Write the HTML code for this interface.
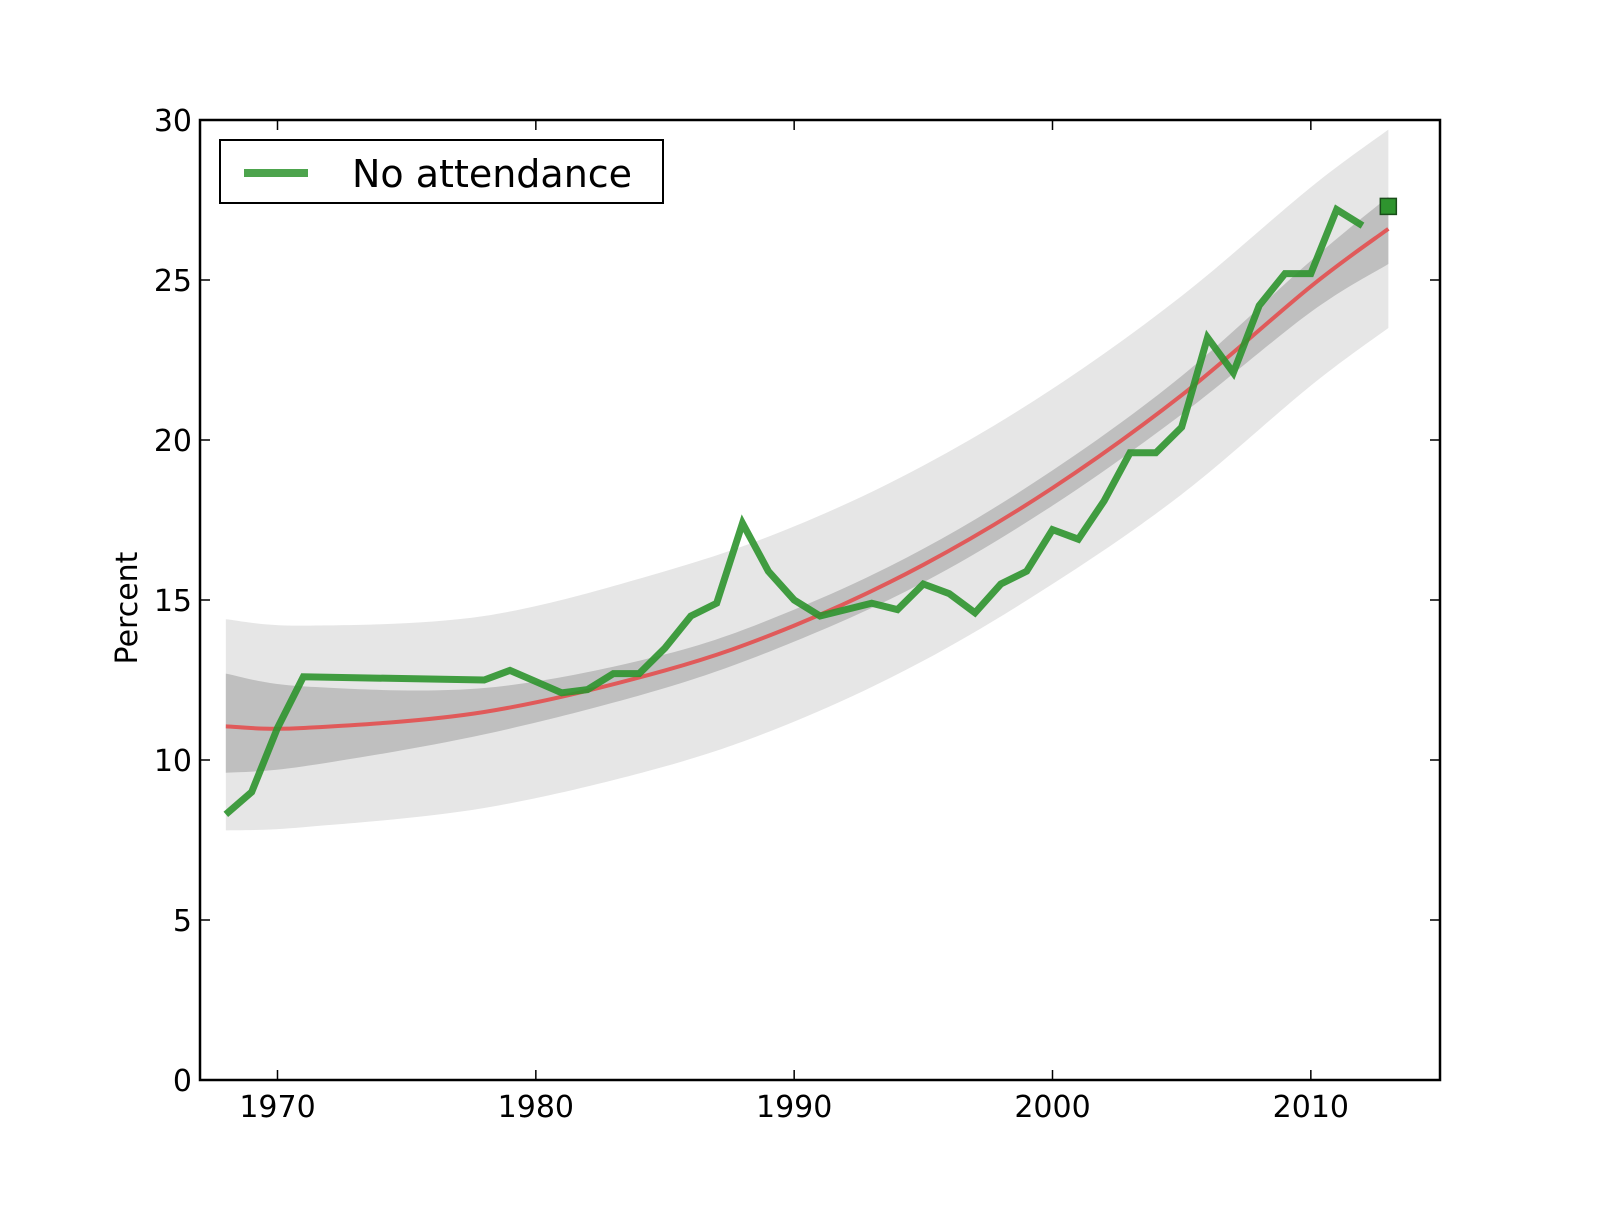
<!DOCTYPE html>
<html><head><meta charset="utf-8"><style>
body{margin:0;background:#fff}
svg text{font-family:"DejaVu Sans","Liberation Sans",sans-serif;fill:#000}
</style></head><body>
<svg id="chart" width="1600" height="1200" xmlns="http://www.w3.org/2000/svg">
<g id="bands"></g>
<g id="lines"></g>
<rect x="200" y="120" width="1240" height="960" fill="none" stroke="#000" stroke-width="2.5"/>
<g id="axes"></g>
<text x="0" y="0" font-size="30" text-anchor="middle" transform="translate(137,608) rotate(-90)">Percent</text>
<g>
<rect x="220" y="140" width="443" height="63" fill="#fff" stroke="#000" stroke-width="2"/>
<line x1="244" y1="173" x2="308" y2="173" stroke="#3a9a3a" stroke-opacity="0.9" stroke-width="8"/>
<text x="352" y="187" font-size="38">No attendance</text>
</g>
</svg>
<script>
const years = [1968,1969,1970,1971,1978,1979,1980,1981,1982,1983,1984,1985,1986,1987,1988,1989,1990,1991,1992,1993,1994,1995,1996,1997,1998,1999,2000,2001,2002,2003,2004,2005,2006,2007,2008,2009,2010,2011,2012];
const values = [8.3,9.0,11.0,12.6,12.5,12.8,12.45,12.1,12.2,12.7,12.7,13.5,14.5,14.9,17.4,15.9,15.0,14.5,14.7,14.9,14.7,15.5,15.2,14.6,15.5,15.9,17.2,16.9,18.1,19.6,19.6,20.4,23.2,22.1,24.2,25.2,25.2,27.2,26.7];
const predYear = [2013];
const predValue = [27.3];
const fitYears = [1968,1971,1978,1985,1990,1995,2000,2005,2010,2013];
const fitValues = [11.05,11.0,11.5,12.8,14.2,16.1,18.5,21.4,24.8,26.6];
const outerHi = [14.4,14.2,14.5,15.9,17.3,19.2,21.6,24.5,27.9,29.7];
const outerLo = [7.8,7.9,8.5,9.8,11.2,13.1,15.5,18.3,21.7,23.5];
const innerHi = [12.7,12.3,12.25,13.3,14.7,16.6,19.05,22.0,25.6,27.6];
const innerLo = [9.6,9.8,10.8,12.25,13.7,15.55,17.95,20.8,24.0,25.5];
const xTicks = [1970,1980,1990,2000,2010];
const yTicks = [0,5,10,15,20,25,30];

const NS='http://www.w3.org/2000/svg';
const X0=1967,X1=2015,Y0=0,Y1=30,L=200,R=1440,T=120,B=1080;
const sx=v=>L+(v-X0)/(X1-X0)*(R-L);
const sy=v=>B-(v-Y0)/(Y1-Y0)*(B-T);
function mk(tag,parent){const e=document.createElementNS(NS,tag);document.getElementById(parent).appendChild(e);return e;}
function smooth(pts,start){
  let d=start+pts[0][0]+','+pts[0][1];
  for(let i=0;i<pts.length-1;i++){
    const p0=pts[Math.max(0,i-1)],p1=pts[i],p2=pts[i+1],p3=pts[Math.min(pts.length-1,i+2)];
    const c1=[p1[0]+(p2[0]-p0[0])/6,p1[1]+(p2[1]-p0[1])/6];
    const c2=[p2[0]-(p3[0]-p1[0])/6,p2[1]-(p3[1]-p1[1])/6];
    d+='C'+c1+' '+c2+' '+p2;
  }
  return d;
}
function band(hi,lo,color){
  const p=mk('path','bands');
  const up=fitYears.map((y,i)=>[sx(y),sy(hi[i])]);
  const dn=fitYears.map((y,i)=>[sx(y),sy(lo[i])]).reverse();
  p.setAttribute('d',smooth(up,'M')+smooth(dn,'L')+'Z');p.setAttribute('fill',color);
  return p;
}
const ob=band(outerHi,outerLo,'#e6e6e6');


const ib=band(innerHi,innerLo,'#bfbfbf');



const fit=mk('path','lines');
fit.setAttribute('d',smooth(fitYears.map((y,i)=>[sx(y),sy(fitValues[i])]),'M'));
fit.setAttribute('fill','none');fit.setAttribute('stroke','#e05a5a');fit.setAttribute('stroke-width','4');



const g=mk('polyline','lines');
g.setAttribute('points',years.map((y,i)=>sx(y)+','+sy(values[i])).join(' '));
g.setAttribute('fill','none');g.setAttribute('stroke','#2e942e');g.setAttribute('stroke-opacity','0.9');
g.setAttribute('stroke-width','7');g.setAttribute('stroke-linejoin','miter');



predYear.forEach((y,i)=>{
  const s=mk('rect','lines');
  s.setAttribute('x',sx(y)-8);s.setAttribute('y',sy(predValue[i])-8);
  s.setAttribute('width',16);s.setAttribute('height',16);
  s.setAttribute('fill','#2e942e');s.setAttribute('stroke','#1a4d1a');s.setAttribute('stroke-width','1.5');
  
  
});

xTicks.forEach(v=>{
  const x=sx(v);
  [[B,B-10],[T,T+10]].forEach(([a,b])=>{const l=mk('line','axes');l.setAttribute('x1',x);l.setAttribute('x2',x);l.setAttribute('y1',a);l.setAttribute('y2',b);l.setAttribute('stroke','#000');l.setAttribute('stroke-width','1.5');
    
    });
  const t=mk('text','axes');t.setAttribute('x',x);t.setAttribute('y',B+37);t.setAttribute('font-size','30');t.setAttribute('text-anchor','middle');t.textContent=v;
  
  
});
yTicks.forEach(v=>{
  const y=sy(v);
  [[L,L+10],[R,R-10]].forEach(([a,b])=>{const l=mk('line','axes');l.setAttribute('x1',a);l.setAttribute('x2',b);l.setAttribute('y1',y);l.setAttribute('y2',y);l.setAttribute('stroke','#000');l.setAttribute('stroke-width','1.5');
    
    });
  const t=mk('text','axes');t.setAttribute('x',L-8);t.setAttribute('y',y+11);t.setAttribute('font-size','30');t.setAttribute('text-anchor','end');t.textContent=v;
  
  
});
</script>
</body></html>
